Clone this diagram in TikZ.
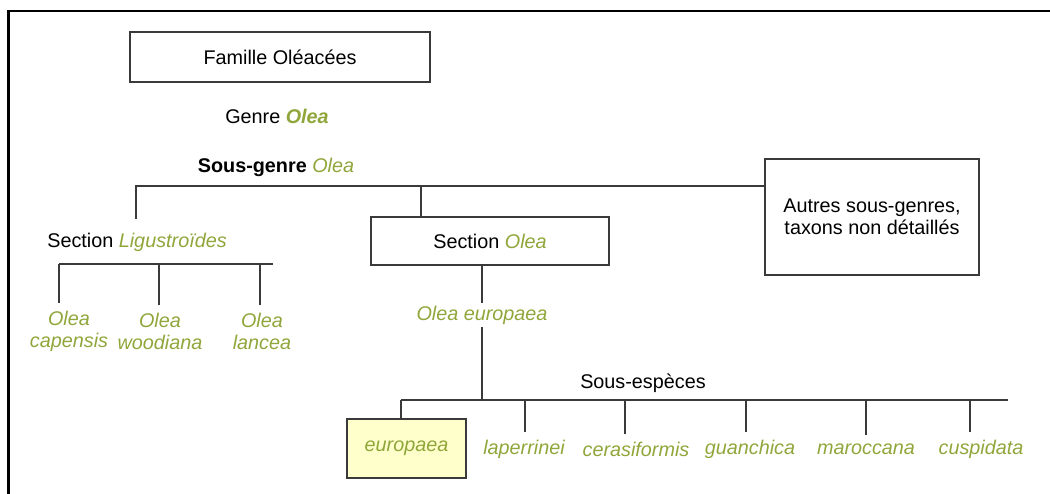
\documentclass[tikz,border=0pt]{standalone}
\usepackage{fontspec}
\setmainfont{Liberation Sans}
\usepackage{tikz}
\usetikzlibrary{positioning, calc}
\usepackage{xcolor}
\definecolor{OleaGreen}{HTML}{8FA63A}
\definecolor{LineGray}{HTML}{3A3A3A}
\definecolor{PaleYellow}{HTML}{FFFFCC}
\tikzset{
  taxbox/.style={draw=LineGray, line width=1.6pt, align=center, inner sep=0pt,
    font=\fontsize{19.8}{22}\selectfont, fill=white},
  taxtext/.style={align=center, inner sep=0pt, font=\fontsize{19.8}{22}\selectfont},
  sptext/.style={align=center, inner sep=8pt, font=\fontsize{19.8}{22}\selectfont\itshape,
    text=OleaGreen},
  link/.style={draw=LineGray, line width=1.6pt},
}
\newcommand{\gr}[1]{\textcolor{OleaGreen}{\textit{#1}}}

\begin{document}
\begin{tikzpicture}[x=1pt, y=-1pt]
    \useasboundingbox (0,0) rectangle (1050,494);
    \clip (0,0) rectangle (1050,494);
    % outer frame, cut by the page edge
    \draw[line width=2.2pt] (1100,11) -- (8,11);
    \draw[line width=3pt] (8,9.9) -- (8,560);

    % upper levels
    \node[taxbox, minimum width=300, minimum height=50] (famille) at (280,57) {Famille Oléacées};
    \node[taxtext] (genre) at (277,116) {Genre \textcolor{OleaGreen}{\textbf{\textit{Olea}}}};
    \node[taxtext] (sousgenre) at (276,167) {\textbf{Sous-genre} \gr{Olea}};
    \node[taxbox, minimum width=214, minimum height=116] (autres) at (872,217) {Autres sous-genres,\\taxons non détaillés};
    \node[taxbox, minimum width=238, minimum height=48] (sectolea) at (490,241) {Section \gr{Olea}};
    \node[taxtext] (sectlig) at (137,242) {Section \gr{Ligustroïdes}};

    % sous-genre bar
    \coordinate (sgbar) at (0,186);
    \coordinate (ligtop) at (136,219);
    \draw[link] (ligtop) |- (autres.west |- sgbar);
    \draw[link] ([xshift=-69]sectolea.north) -- ([xshift=-69]sectolea.north |- sgbar);

    % section Ligustroides
    \node[sptext] (capensis) at (69,331) {Olea\\capensis};
    \node[sptext] (woodiana) at (160,331) {Olea\\woodiana};
    \node[sptext] (lancea) at (262,331) {Olea\\lancea};
    \coordinate (ligL) at (59,264);
    \coordinate (ligR) at (273,264);
    \draw[link] (ligL) -- (ligR);
    \foreach \n/\dx in {capensis/-10, woodiana/-1, lancea/-2}
      \draw[link] ([xshift=\dx]\n.north) -- ([xshift=\dx]\n.north |- ligL);

    % section Olea
    \node[sptext, inner sep=3pt] (oleaeur) at (482,315) {Olea europaea};
    \draw[link] (oleaeur.north) -- (oleaeur.north |- sectolea.south);
    \node[taxtext] (sousesp) at (643,383) {Sous-espèces};
    \coordinate (spL) at (401,400);
    \coordinate (spR) at (1008,400);
    \draw[link] (spL) -- (spR);
    \draw[link] (oleaeur.south) -- (oleaeur.south |- spL);

    % sous-especes
    \node[taxbox, fill=PaleYellow, minimum width=119, minimum height=59,
      font=\fontsize{19.8}{22}\selectfont\itshape, text=OleaGreen] (europaea) at (406.5,448.5) {europaea};
    \node[sptext] (laperrinei) at (524,449) {laperrinei};
    \node[sptext] (cerasiformis) at (636,449) {cerasiformis};
    \node[sptext] (guanchica) at (750,449) {guanchica};
    \node[sptext] (maroccana) at (866,449) {maroccana};
    \node[sptext] (cuspidata) at (981,449) {cuspidata};
    \draw[link] ([xshift=-5.5]europaea.north) -- ([xshift=-5.5]europaea.north |- spL);
    \foreach \n/\dx in {laperrinei/1, cerasiformis/-11, guanchica/-4, maroccana/0, cuspidata/-11}
      \draw[link] ([xshift=\dx]\n.north) -- ([xshift=\dx]\n.north |- spL);
  \end{tikzpicture}
\end{document}
